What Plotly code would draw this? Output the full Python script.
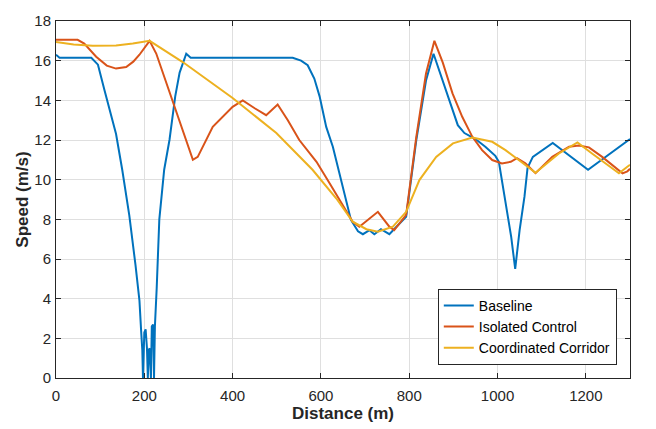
import plotly.graph_objects as go

# Baseline
base_x = [0, 8, 80, 95, 110, 136, 150, 166, 180, 189, 193, 195.5, 197, 200, 203, 206, 208, 210, 212, 215,
          217, 220, 222, 224, 228, 234, 245, 257, 270, 280, 295, 305, 536, 555, 570, 585, 597, 604, 612,
          627, 646, 668, 684, 695, 710, 721, 736, 755, 770, 793, 816, 838, 855, 876, 895, 910, 925, 950,
          973, 995, 1003, 1012, 1020, 1031, 1040, 1050, 1061, 1068, 1080, 1125, 1205, 1300]
base_y = [16.3, 16.15, 16.15, 15.8, 14.5, 12.3, 10.5, 8.2, 5.7, 3.9, 2.3, 1.4, 0.0, 2.3, 2.45, 1.5, 0.0, 1.4, 1.5, 0.0,
          2.6, 2.7, 0.0, 2.6, 4.5, 8.0, 10.5, 12.0, 14.2, 15.4, 16.35, 16.15, 16.15, 16.0, 15.77, 15.1, 14.2, 13.5, 12.66,
          11.66, 9.98, 7.97, 7.4, 7.25, 7.45, 7.25, 7.5, 7.25, 7.6, 8.13, 12.0, 15.0, 16.35, 15.0, 13.8, 12.75, 12.35, 12.05,
          11.65, 11.2, 10.9, 9.6, 8.47, 7.1, 5.5, 7.46, 9.14, 10.6, 11.15, 11.85, 10.5, 12.05]

# Isolated Control
iso_x = [0, 49, 64, 91, 115, 136, 159, 175, 189, 212, 227, 245, 264, 291, 310, 321, 355, 400, 423, 450, 476,
         502, 525, 551, 590, 620, 657, 672, 687, 729, 755, 766, 793, 816, 838, 857, 876, 898, 920, 943, 965,
         988, 1010, 1030, 1044, 1063, 1086, 1124, 1162, 1184, 1207, 1237, 1283, 1294, 1300]
iso_y = [17.05, 17.05, 16.86, 16.2, 15.75, 15.6, 15.68, 15.95, 16.3, 17.0, 16.36, 15.2, 14.0, 12.33, 11.0, 11.15,
         12.66, 13.67, 14.0, 13.6, 13.25, 13.79, 13.0, 12.0, 10.9, 9.81, 8.47, 7.88, 7.63, 8.38, 7.63, 7.46, 8.22,
         12.16, 15.35, 17.0, 15.9, 14.35, 13.17, 12.16, 11.49, 10.99, 10.82, 10.9, 11.08, 10.82, 10.33, 11.15,
         11.66, 11.72, 11.63, 11.15, 10.32, 10.42, 10.55]

# Coordinated Corridor
coord_x = [0, 40, 83, 136, 174, 212, 287, 400, 499, 581, 635, 672, 703, 729, 763, 793, 823, 861, 899, 943, 988,
           1018, 1048, 1086, 1139, 1181, 1214, 1275, 1294, 1300]
coord_y = [16.94, 16.82, 16.75, 16.77, 16.86, 17.0, 15.93, 14.12, 12.35, 10.5, 9.05, 7.88, 7.5, 7.38, 7.63, 8.38,
           9.98, 11.15, 11.83, 12.13, 11.91, 11.49, 10.99, 10.35, 11.32, 11.88, 11.32, 10.32, 10.65, 10.75]

series_names = ["Baseline", "Isolated Control", "Coordinated Corridor"]
colors = ["#0072BD", "#D95319", "#EDB120"]

x_ticks = [0, 200, 400, 600, 800, 1000, 1200]
y_ticks = [0, 2, 4, 6, 8, 10, 12, 14, 16, 18]

fig = go.Figure()
for name, xs, ys, c in zip(series_names, [base_x, iso_x, coord_x], [base_y, iso_y, coord_y], colors):
    fig.add_trace(go.Scatter(x=xs, y=ys, mode="lines", name=name, line=dict(color=c, width=2)))

axis_common = dict(
    showline=True, linecolor="#262626", linewidth=1, mirror="ticks",
    ticks="inside", ticklen=5, tickcolor="#262626",
    showgrid=True, gridcolor="#dfdfdf", gridwidth=1, zeroline=False,
    tickfont=dict(size=15, color="#262626"), automargin=False,
)

fig.update_layout(
    width=656, height=429,
    margin=dict(l=56, r=26, t=21, b=51),
    paper_bgcolor="white", plot_bgcolor="white",
    font=dict(family="Arial, Liberation Sans, sans-serif", color="#262626"),
    xaxis=dict(range=[0, 1300], tickvals=x_ticks, ticklabelstandoff=4,
               title=dict(text="<b>Distance (m)</b>", font=dict(size=17, color="#262626"), standoff=4),
               **axis_common),
    yaxis=dict(range=[0, 18], tickvals=y_ticks, ticklabelstandoff=1,
               title=dict(text="<b>Speed (m/s)</b>", font=dict(size=17, color="#262626"), standoff=1),
               **axis_common),
    legend=dict(x=0.977, y=0.037, xanchor="right", yanchor="bottom",
                bgcolor="white", bordercolor="#262626", borderwidth=1,
                font=dict(size=14, color="#000000"), tracegroupgap=0),
    showlegend=True,
)

fig.write_html("out.html")
